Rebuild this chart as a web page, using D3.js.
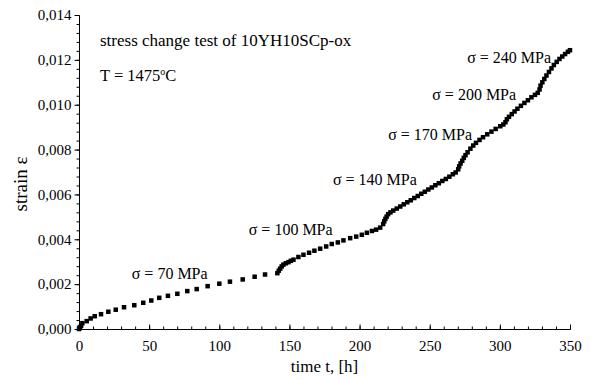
<!DOCTYPE html>
<html>
<head>
<meta charset="utf-8">
<script src="https://cdn.jsdelivr.net/npm/d3@7"></script>
<style>
  body { margin: 0; background: #fff; }
  text { font-family: "Liberation Serif", "Times New Roman", serif; fill: #000; }
</style>
</head>
<body>
<div id="chart"></div>
<script>
// creep curve, time in h, strain as a fraction
const timeH = [
  0, 0.3, 0.7, 1.5, 2.4, 5.5, 8.3, 11.2, 15.7, 20.9, 26.2, 32.1, 39.4, 45.8, 51.5, 57.2, 63.4, 70.1,
  77.2, 83.9, 91.7, 100, 107.6, 116.7, 125.2, 132.6,
  141.4, 142.4, 143.4, 144.5, 145.7, 147.5, 149.3, 151, 152.9, 156.4, 160, 164, 167.8, 171.9, 176.2,
  180.2, 184.5, 188.5, 193.3, 197.6, 201.6, 205.2, 208.8, 211.8, 214.7,
  216.8, 217.6, 218.4, 219.3, 220.4, 222, 224, 226.5, 229, 231.5, 234, 236.5, 239, 241.5, 244, 246.5,
  249, 251.5, 254, 256.5, 259, 261.5, 264, 266.5, 268.5,
  270.3, 271, 272, 273.2, 274.3, 275.5, 277, 279, 281, 283, 285.5, 288, 291, 294, 297, 300.3, 302.5,
  304, 305, 306.5, 308.5, 310.5, 312.5, 315, 317.5, 320, 322.5, 325, 327,
  328.3, 329, 330.3, 331.7, 333.2, 335, 336.8, 338.5, 340.5, 342.5, 344.5, 346.5, 348.5, 350
]
const strain = [
  0, 0.00004, 0.00008, 0.00014, 0.00026, 0.00035, 0.00047, 0.00057, 0.00066, 0.00077, 0.00086, 0.00097, 0.00106, 0.00117, 0.00127, 0.00139, 0.00148, 0.00157,
  0.00169, 0.00178, 0.00191, 0.00202, 0.00211, 0.00221, 0.00233, 0.00243,
  0.00249, 0.00260, 0.00269, 0.00279, 0.00287, 0.00293, 0.00298, 0.00304, 0.00309, 0.00321, 0.00331, 0.00340, 0.00349, 0.00358, 0.00368,
  0.00379, 0.00386, 0.00395, 0.00405, 0.00412, 0.00420, 0.00429, 0.00437, 0.00443, 0.00452,
  0.00468, 0.00480, 0.00491, 0.00501, 0.00512, 0.00520, 0.00528, 0.00537, 0.00546, 0.00556, 0.00565, 0.00574, 0.00584, 0.00593, 0.00603, 0.00612,
  0.00622, 0.00631, 0.00641, 0.00650, 0.00660, 0.00669, 0.00679, 0.00690, 0.00698,
  0.00712, 0.00725, 0.00738, 0.00750, 0.00763, 0.00775, 0.00788, 0.00804, 0.00818, 0.00830, 0.00843, 0.00855, 0.00868, 0.00880, 0.00892, 0.00904, 0.00912,
  0.00922, 0.00935, 0.00946, 0.00958, 0.00970, 0.00982, 0.00995, 0.01008, 0.01020, 0.01033, 0.01044, 0.01053,
  0.01068, 0.01085, 0.01100, 0.01115, 0.01130, 0.01146, 0.01162, 0.01177, 0.01191, 0.01204, 0.01215, 0.01226, 0.01236, 0.01243
]

// stress steps and where their labels sit (data units: h, strain)
const stressMPa = [70, 100, 140, 170, 200, 240]
const labelTime = [37.6, 121, 181, 220.4, 251.8, 276.7]
const labelStrain = [0.00225, 0.00417, 0.0064, 0.00842, 0.0102, 0.01185]

const xTicks = [0, 50, 100, 150, 200, 250, 300, 350]
const yTicks = [0, 0.002, 0.004, 0.006, 0.008, 0.010, 0.012, 0.014]

const width = 614
const height = 380
const margin = { top: 15, right: 44, bottom: 51, left: 79 }
const boundedWidth = width - margin.left - margin.right
const boundedHeight = height - margin.top - margin.bottom

const svg = d3.select('#chart').append('svg')
  .attr('width', width)
  .attr('height', height)

const plot = svg.append('g')
  .attr('transform', `translate(${margin.left}, ${margin.top})`)

const xScale = d3.scaleLinear().domain([0, 350]).range([0, boundedWidth])
const yScale = d3.scaleLinear().domain([0, 0.014]).range([boundedHeight, 0])

const fmt = d => d3.format('.3f')(d).replace('.', ',')

// minor ticks first, then the labelled axes on top
plot.append('g')
  .attr('transform', `translate(0, ${boundedHeight})`)
  .call(d3.axisBottom(xScale).tickValues(d3.range(0, 351, 10)).tickSize(-2.5).tickFormat(''))
plot.append('g')
  .call(d3.axisLeft(yScale).tickValues(d3.range(0, 0.01401, 0.0004)).tickSize(2.5).tickFormat(''))

const xAxis = plot.append('g')
  .attr('class', 'x-axis')
  .attr('transform', `translate(0, ${boundedHeight})`)
  .call(d3.axisBottom(xScale).tickValues(xTicks).tickSizeInner(-4.5).tickSizeOuter(0).tickPadding(11))

const yAxis = plot.append('g')
  .attr('class', 'y-axis')
  .call(d3.axisLeft(yScale).tickValues(yTicks).tickFormat(fmt).tickSizeInner(4.5).tickSizeOuter(0).tickPadding(3))

svg.selectAll('.domain, .tick line').attr('stroke', '#000').attr('stroke-width', 1)
svg.selectAll('.tick text').attr('font-size', 15).attr('font-family', '"Liberation Serif", serif').attr('fill', '#000')

// data squares
const size = 4.5
plot.selectAll('.pt')
  .data(timeH.map((t, i) => [t, strain[i]]))
  .enter().append('rect')
  .attr('class', 'pt')
  .attr('x', d => xScale(d[0]) - size / 2)
  .attr('y', d => yScale(d[1]) - size / 2)
  .attr('width', size)
  .attr('height', size)
  .attr('fill', '#000')

// stress labels
plot.selectAll('.stress')
  .data(stressMPa)
  .enter().append('text')
  .attr('class', 'stress')
  .attr('x', (d, i) => xScale(labelTime[i]))
  .attr('y', (d, i) => yScale(labelStrain[i]))
  .attr('font-size', 16)
  .text(d => `σ = ${d} MPa`)

// titles
svg.append('text')
  .attr('x', 100)
  .attr('y', 46)
  .attr('font-size', 17)
  .text('stress change test of 10YH10SCp-ox')

const tLabel = svg.append('text')
  .attr('x', 100)
  .attr('y', 81)
  .attr('font-size', 16.5)
tLabel.append('tspan').text('T = 1475')
tLabel.append('tspan').attr('font-size', 10).attr('dy', -6).text('o')
tLabel.append('tspan').attr('dy', 6).text('C')

svg.append('text')
  .attr('x', margin.left + boundedWidth / 2)
  .attr('y', 372)
  .attr('text-anchor', 'middle')
  .attr('font-size', 17)
  .text('time t, [h]')

svg.append('text')
  .attr('transform', `translate(27, ${margin.top + boundedHeight / 2 + 12}) rotate(-90)`)
  .attr('text-anchor', 'middle')
  .attr('font-size', 19)
  .text('strain ε')
</script>
</body>
</html>
